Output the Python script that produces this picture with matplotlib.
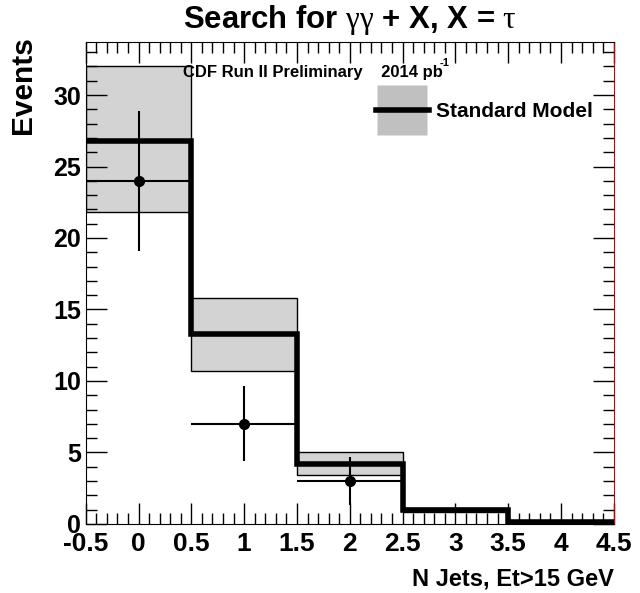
import matplotlib.pyplot as plt
from matplotlib.lines import Line2D
from matplotlib.ticker import MultipleLocator, FormatStrFormatter

plt.rcParams['font.family'] = ['Liberation Sans', 'DejaVu Sans']
plt.rcParams['font.weight'] = 'bold'
plt.rcParams['mathtext.fontset'] = 'custom'
plt.rcParams['mathtext.rm'] = 'Liberation Serif:normal'
plt.rcParams['mathtext.it'] = 'Liberation Serif:normal'
plt.rcParams['mathtext.bf'] = 'Liberation Sans:bold'

# jet multiplicity bins
bin_edges = [-0.5, 0.5, 1.5, 2.5, 3.5, 4.5]
sm_expect = [26.8, 13.3, 4.2, 1.0, 0.15]
sm_low = [21.8, 10.7, 3.4, 0.85, 0.1]
sm_high = [32.0, 15.8, 5.0, 1.15, 0.2]

# observed data (bins with events)
data_x = [0, 1, 2]
data_y = [24, 7, 3]
data_err_lo = [4.9, 2.6, 1.7]
data_err_hi = [4.9, 2.65, 1.7]

fig = plt.figure(figsize=(6.4, 5.93), dpi=100)
ax = fig.add_axes([0.134, 0.1164, 0.825, 0.8126])

centers = [(a + b) / 2 for a, b in zip(bin_edges[:-1], bin_edges[1:])]
widths = [b - a for a, b in zip(bin_edges[:-1], bin_edges[1:])]
ax.bar(centers, [h - l for h, l in zip(sm_high, sm_low)], width=widths,
       bottom=sm_low, color='#d3d3d3', edgecolor='black', linewidth=1, zorder=1)
ax.stairs(sm_expect, bin_edges, color='black', linewidth=4, baseline=None, zorder=2)
ax.errorbar(data_x, data_y, xerr=0.5, yerr=[data_err_lo, data_err_hi],
            fmt='o', color='black', ms=7, elinewidth=1.5, capsize=0, zorder=3)

ax.set_xlim(-0.5, 4.5)
ax.set_ylim(0, 33.7)
ax.xaxis.set_major_locator(MultipleLocator(0.5))
ax.xaxis.set_minor_locator(MultipleLocator(0.1))
ax.xaxis.set_major_formatter(FormatStrFormatter('%g'))
ax.yaxis.set_major_locator(MultipleLocator(5))
ax.yaxis.set_minor_locator(MultipleLocator(1))
ax.tick_params(which='both', direction='in', top=True, right=True, labelsize=18)
ax.tick_params(which='major', length=15, width=1)
ax.tick_params(which='minor', length=8, width=1)
ax.tick_params(axis='x', pad=6)
ax.tick_params(axis='x', labelsize=19)
ax.spines['right'].set_color('#cc0000')

ax.set_title(r'Search for $\gamma\gamma$ + X, X = $\tau$', fontsize=22.4,
             fontweight='bold', pad=10.5)
ax.set_ylabel('Events', fontsize=21.5, fontweight='bold', loc='top')
ax.yaxis.set_label_coords(-0.093, 1.012)
ax.set_xlabel('N Jets, Et>15 GeV', fontsize=17, fontweight='bold', loc='right',
              labelpad=8)
ax.text(0.185, 0.937, 'CDF Run II Preliminary    2014 pb',
        transform=ax.transAxes, fontsize=12, fontweight='bold', va='center')
ax.text(0.671, 0.957, '-1', transform=ax.transAxes, fontsize=8,
        fontweight='bold', va='center')

# legend: grey band with the SM line through its middle
band_key = Line2D([], [], marker='s', ms=35.5, color='#c0c0c0', mec='none', ls='none')
line_key = Line2D([], [], color='black', lw=4)
ax.legend([(band_key, line_key)], ['Standard Model'], loc='center left',
          bbox_to_anchor=(0.515, 0.855), frameon=False, handlelength=2.5,
          handleheight=0.7, handletextpad=0.35,
          prop={'weight': 'bold', 'size': 15})

fig.savefig('out.png', dpi=100)
